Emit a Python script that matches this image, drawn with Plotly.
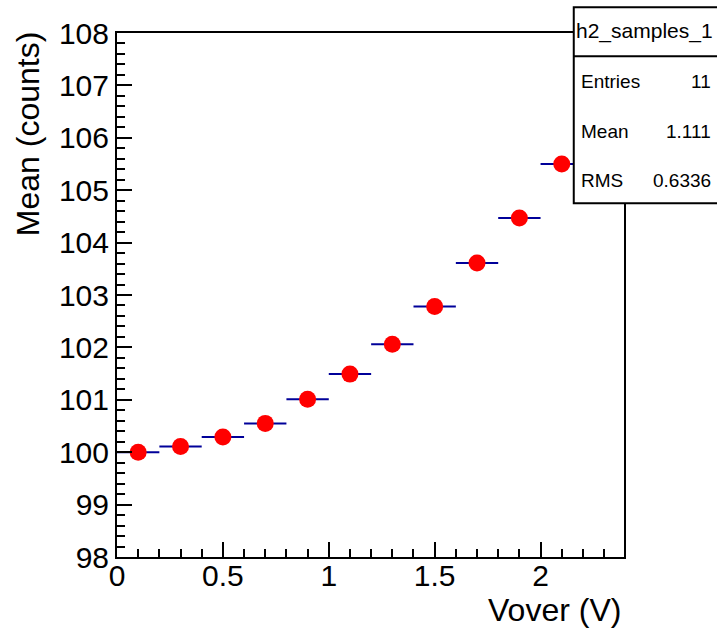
import plotly.graph_objects as go

vover = [0.1, 0.3, 0.5, 0.7, 0.9, 1.1, 1.3, 1.5, 1.7, 1.9, 2.1]
mean_counts = [100.0, 100.11, 100.29, 100.55, 101.01, 101.49, 102.06, 102.78, 103.61, 104.47, 105.50]
x_err = [0.1] * len(vover)

stats_title = "h2_samples_1"
stats_labels = ["Entries", "Mean", "RMS"]
stats_values = ["11", "1.111", "0.6336"]

W, H = 717, 628
L, R, T, B = 116.7, 624.3, 32.7, 556.7
FONT = "Liberation Sans, Arial, sans-serif"


def px(x):
    return (x - L) / (R - L)


def py(y):
    return (B - y) / (B - T)


fig = go.Figure()
fig.add_trace(go.Scatter(
    x=vover, y=mean_counts, mode="markers",
    marker=dict(color="#ff0000", size=17, line=dict(width=0)),
    error_x=dict(type="data", array=x_err, color="#000099", thickness=2, width=0),
    showlegend=False, cliponaxis=False,
))

fig.update_layout(
    width=W, height=H,
    margin=dict(l=L, r=W - R, t=T, b=H - B, pad=0),
    paper_bgcolor="white", plot_bgcolor="white",
    font=dict(family=FONT, color="black"),
    xaxis=dict(
        range=[0, 2.394], tickmode="array", tickvals=[0, 0.5, 1, 1.5, 2],
        ticktext=["0", "0.5", "1", "1.5", "2"],
        ticks="inside", ticklen=15, tickwidth=2, tickcolor="black",
        minor=dict(ticks="inside", ticklen=8, tickwidth=2, dtick=0.1, tick0=0, tickcolor="black"),
        showline=True, linewidth=2, linecolor="black", mirror=True,
        showgrid=False, zeroline=False, tickfont=dict(size=30, family=FONT),
        ticklabelstandoff=-9,
    ),
    yaxis=dict(
        range=[98, 108], tickmode="linear", tick0=98, dtick=1,
        ticks="inside", ticklen=15, tickwidth=2, tickcolor="black",
        minor=dict(ticks="inside", ticklen=8, tickwidth=2, dtick=0.2, tick0=98, tickcolor="black"),
        showline=True, linewidth=2, linecolor="black", mirror=True,
        showgrid=False, zeroline=False, tickfont=dict(size=30, family=FONT),
    ),
)

# axis titles
fig.add_annotation(x=px(623), y=py(610), xref="paper", yref="paper", text="Vover (V)",
                   showarrow=False, xanchor="right", yanchor="middle",
                   font=dict(size=32, family=FONT))
fig.add_annotation(x=px(27), y=py(29), xref="paper", yref="paper", text="Mean (counts)",
                   showarrow=False, xanchor="center", yanchor="top", textangle=-90,
                   font=dict(size=32, family=FONT))

# stats box
bx0, bx1, by0, by1, bdiv = 574, 724, 7, 203, 56
fig.add_shape(type="rect", xref="paper", yref="paper", x0=px(bx0), x1=px(bx1), y0=py(by1), y1=py(by0),
              line=dict(color="black", width=2), fillcolor="white", layer="above")
fig.add_shape(type="line", xref="paper", yref="paper", x0=px(bx0), x1=px(bx1), y0=py(bdiv), y1=py(bdiv),
              line=dict(color="black", width=2), layer="above")
fig.add_annotation(x=px(645), y=py(31), xref="paper", yref="paper", text=stats_title,
                   showarrow=False, xanchor="center", yanchor="middle", font=dict(size=21, family=FONT))
rows_y = [81, 131, 180]
for lab, val, yy in zip(stats_labels, stats_values, rows_y):
    fig.add_annotation(x=px(579), y=py(yy), xref="paper", yref="paper", text=lab,
                       showarrow=False, xanchor="left", yanchor="middle", font=dict(size=19, family=FONT))
    fig.add_annotation(x=px(713), y=py(yy), xref="paper", yref="paper", text=val,
                       showarrow=False, xanchor="right", yanchor="middle", font=dict(size=19, family=FONT))

fig.write_html("out.html", config={"displayModeBar": False},
               post_script="document.body.style.margin='0';document.body.style.overflow='hidden';")
